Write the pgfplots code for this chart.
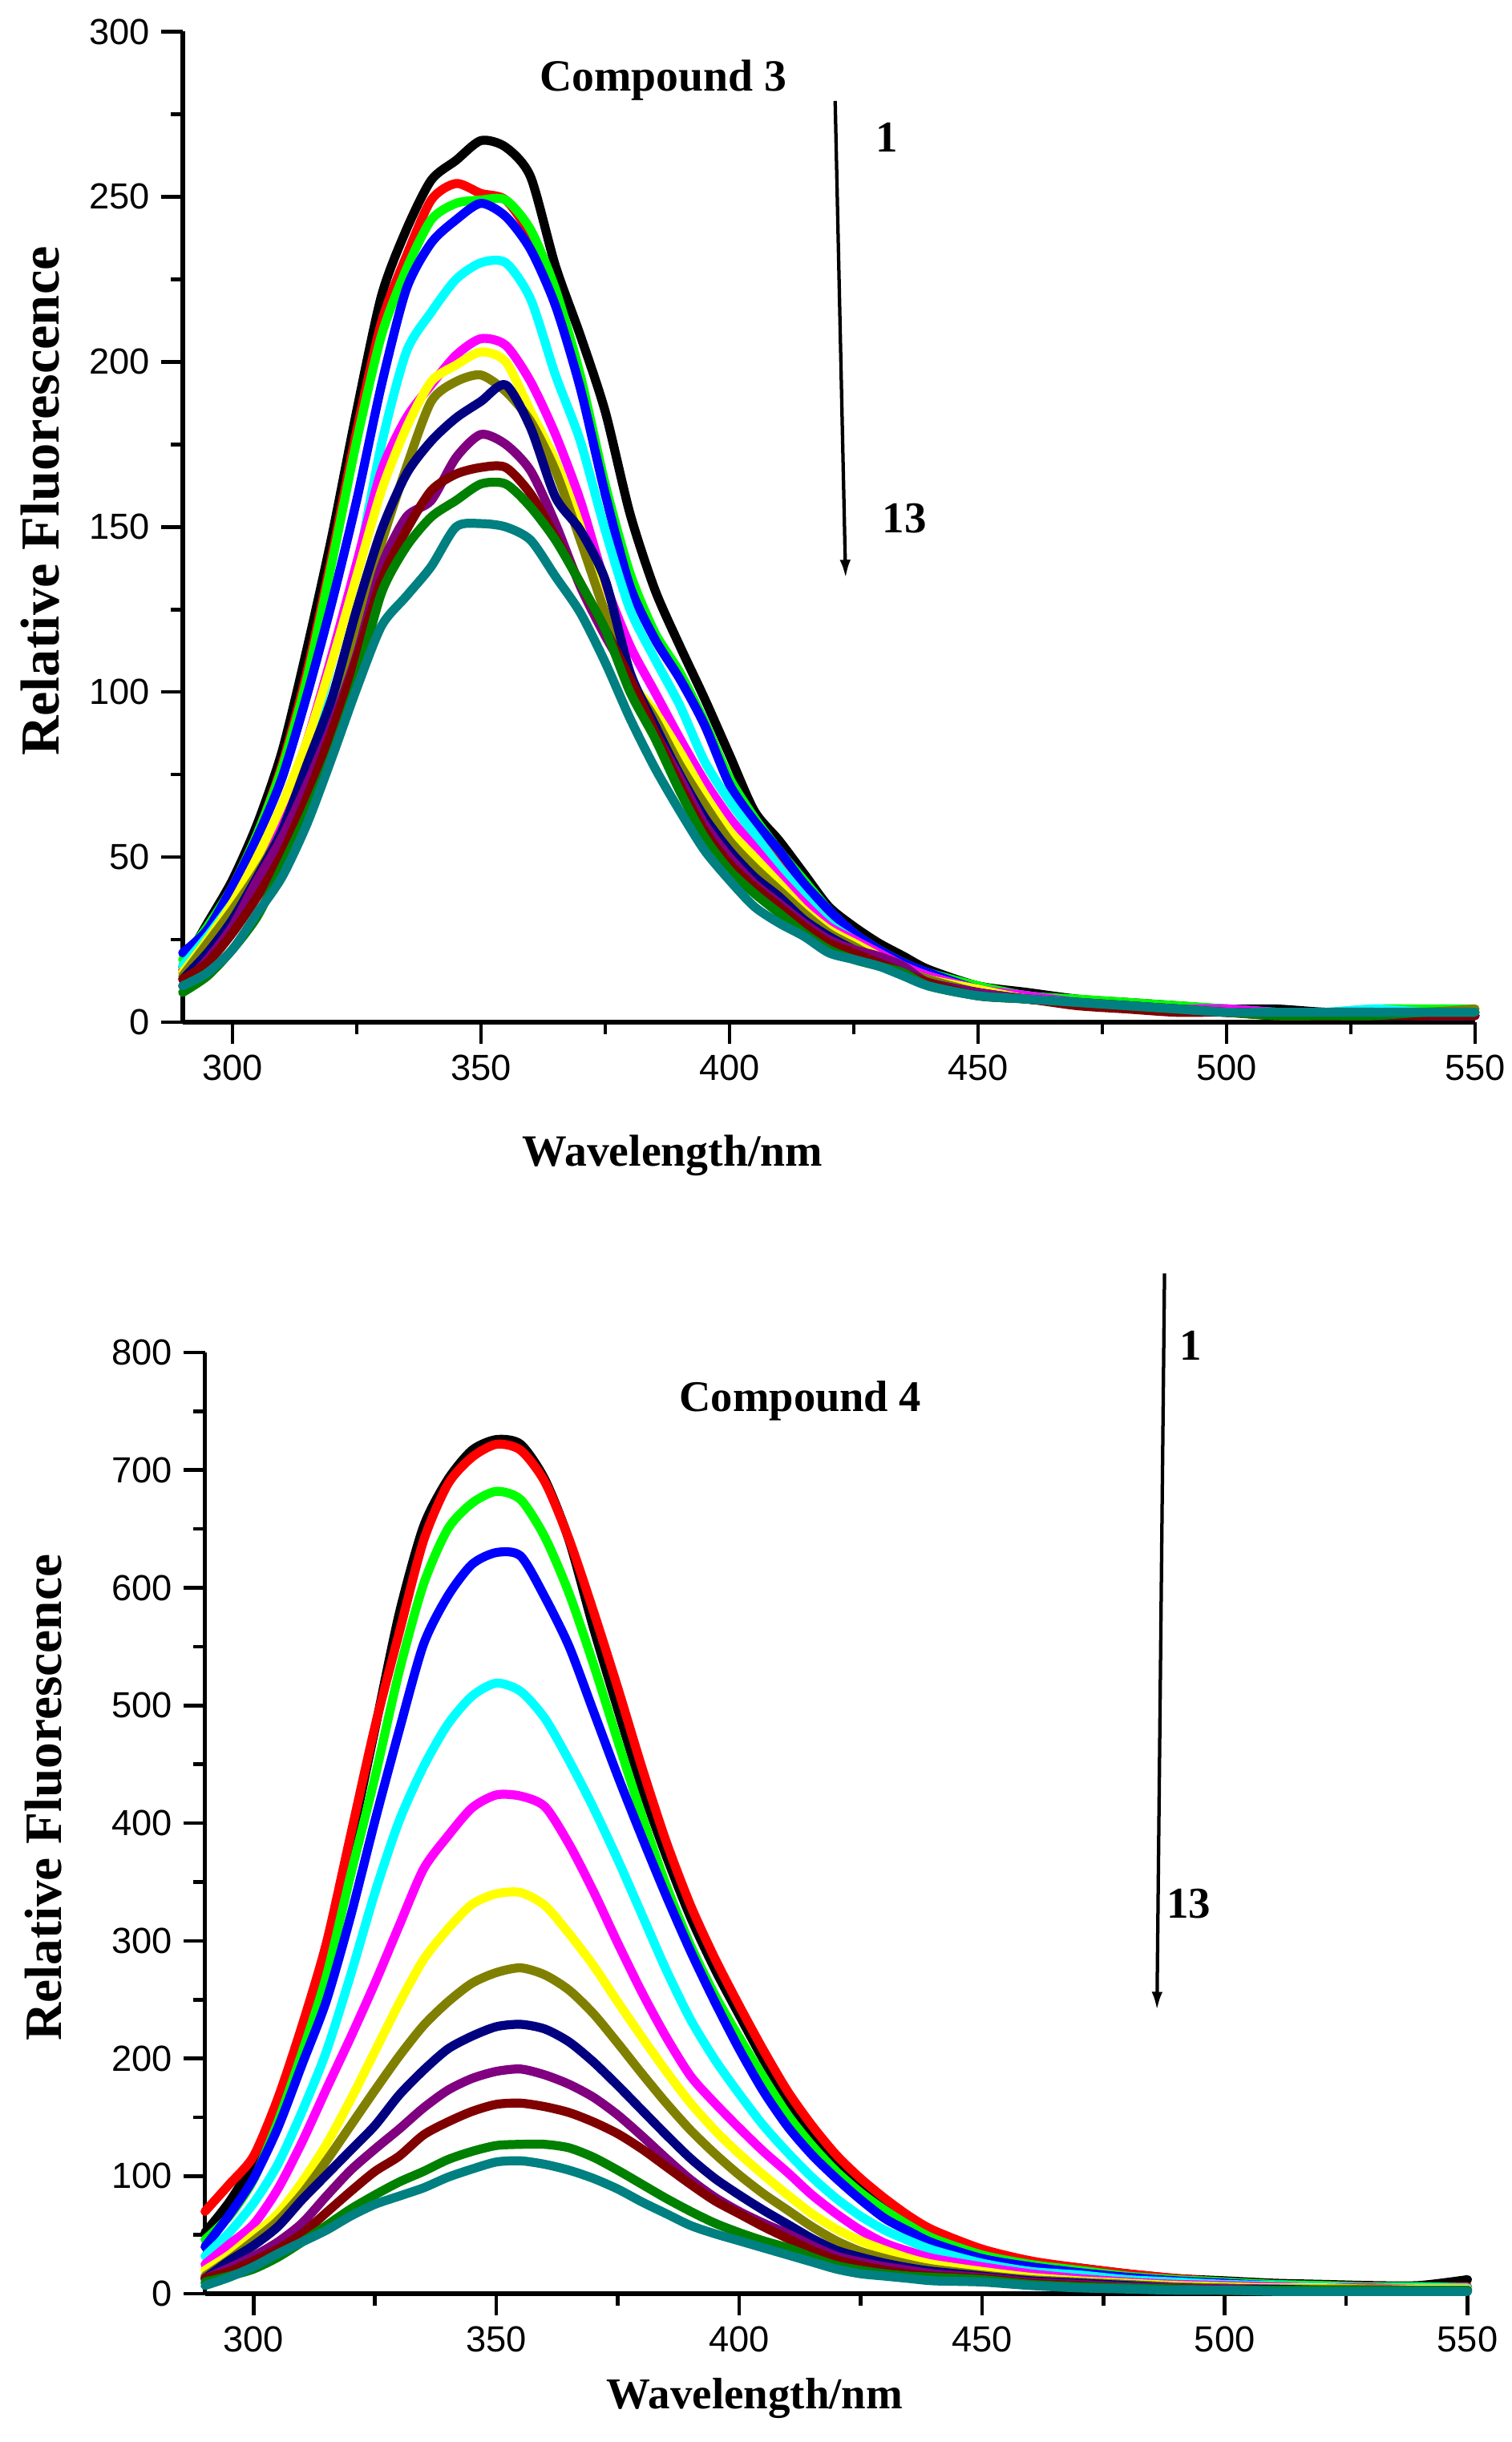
\documentclass[border=0pt]{standalone}
\usepackage{fontspec}
\setmainfont{Liberation Serif}
\newfontfamily\arialf{Liberation Sans}
\usepackage{pgfplots}
\usepackage{pgfplotstable}
\pgfplotsset{compat=1.18}
\usetikzlibrary{arrows.meta}

\definecolor{cRed}{RGB}{255,0,0}
\definecolor{cGreen}{RGB}{0,255,0}
\definecolor{cBlue}{RGB}{0,0,255}
\definecolor{cCyan}{RGB}{0,255,255}
\definecolor{cMag}{RGB}{255,0,255}
\definecolor{cYel}{RGB}{255,255,0}
\definecolor{cOlive}{RGB}{128,128,0}
\definecolor{cNavy}{RGB}{0,0,128}
\definecolor{cPurple}{RGB}{128,0,128}
\definecolor{cWine}{RGB}{128,0,0}
\definecolor{cDkGreen}{RGB}{0,128,0}
\definecolor{cTeal}{RGB}{0,128,128}

\pgfplotstableread{
x c1 c2 c3 c4 c5 c6 c7 c8 c9 c10 c11 c12 c13
290 17 16 19 21 17 15 15 14 13 11 13 9 11
295 30 28 29 28 26 23 25 24 21 19 18 14 15
300 43 41 41 41 36 33 36 34 31 29 27 22 22
305 60 57 57 56 46 46 50 45 44 43 38 32 33
310 82 78 77 74 62 63 66 58 58 56 51 47 44
315 113 106 104 99 82 85 85 76 78 72 68 63 60
320 147 141 139 127 109 111 109 93 98 90 88 81 80
325 185 179 176 158 137 139 135 117 125 111 110 103 101
330 220 212 208 193 175 167 161 145 149 138 134 130 120
335 240 232 228 222 203 183 180 168 166 153 149 144 129
340 255 249 243 236 215 193 194 188 176 158 161 153 138
345 261 254 248 243 225 202 199 194 183 171 166 158 150
350 267 251 249 248 230 207 203 196 188 178 168 163 151
355 265 249 249 244 230 205 200 191 193 175 168 163 150
360 256 238 240 234 219 194 185 182 180 167 160 156 146
365 229 218 222 217 196 178 170 167 159 151 147 146 135
370 208 194 196 192 176 158 150 146 149 132 133 133 124
375 185 161 163 160 149 133 124 124 134 117 119 119 109
380 154 134 136 132 125 114 104 104 106 104 104 100 92
385 131 117 118 116 110 100 94 92 90 88 88 86 77
390 114 105 106 104 96 86 82 78 75 74 72 70 64
395 98 90 91 90 79 73 69 66 62 60 58 56 52
400 81 73 74 72 67 62 58 55 52 50 48 46 43
405 64 61 62 61 57 53 50 47 44 42 41 39 35
410 55 51 52 52 47 44 42 40 38 36 35 33 30
415 45 41 43 42 38 36 34 33 31 30 29 27 26
420 35 32 34 34 30 29 28 27 26 25 24 22 21
425 29 25 27 27 25 25 24 23 22 22 21 19 19
430 24 21 22 22 21 21 20 19 19 20 18 17 17
435 20 17 18 18 17 17 16 16 16 17 15 15 14
440 16 13 15 15 14 14 13 13 12 12 12 11 11
450 11 9 11 10 10 10 10 9 9 9 8 8 8
460 9 7 8 8 8 8 7 7 7 7 7 7 7
470 7 6 7 6 6 6 6 6 6 6 5 6 6
480 6 5 6 5 5 5 5 5 5 5 4 5 5
490 5 4 5 4 4 4 4 4 4 4 3 4 4
500 4 3 4 4 4 4 3 3 3 3 3 3 3
510 4 2 3 3 3 3 3 3 3 3 2 2 3
520 3 2 3 3 3 3 3 3 3 3 2 2 3
530 3 2 4 3 4 3 3 3 2 3 2 2 3
540 3 2 4 3 3 3 3 3 2 2 2 3 3
550 3 2 4 3 3 2 3 4 2 2 2 3 3
}\topdata

\pgfplotstableread{
x d1 d2 d3 d4 d5 d6 d7 d8 d9 d10 d11 d12 d13
290 52 70 46 40 32 25 20 15 13 13 13 10 7
295 78 93 66 67 52 42 33 29 28 22 19 15 14
300 112 117 97 98 77 59 50 45 41 32 28 21 23
305 160 166 146 141 110 89 68 62 57 44 38 31 34
310 220 228 205 195 155 129 95 85 80 60 51 44 44
315 292 298 270 249 206 174 127 113 101 83 69 58 54
320 383 390 356 321 271 218 165 143 122 105 87 72 66
325 480 482 439 402 341 264 206 173 143 123 104 84 76
330 578 562 529 479 402 313 247 202 169 140 117 95 83
335 652 640 603 552 448 361 284 228 190 158 135 104 90
340 692 688 650 593 484 389 310 248 208 173 146 114 99
345 717 711 672 620 508 413 331 264 219 183 155 121 106
350 726 722 682 630 519 424 340 273 227 189 161 126 112
355 722 717 675 627 512 423 341 277 229 191 162 127 113
360 692 690 643 592 489 414 330 271 225 186 159 127 110
365 640 641 595 550 453 382 306 258 214 178 154 124 105
370 566 580 535 495 413 342 279 238 197 167 146 116 98
375 497 515 470 440 369 298 248 213 177 152 136 105 89
380 430 447 406 388 322 256 218 187 156 134 123 93 78
385 372 384 347 338 275 218 189 162 135 115 108 81 68
390 320 330 296 291 233 185 162 139 115 97 93 70 58
395 276 285 254 248 199 162 139 119 98 82 79 60 51
400 237 245 218 208 170 141 119 101 84 70 68 52 45
405 199 207 184 172 143 121 101 85 71 60 57 45 39
410 165 172 152 142 120 103 84 71 59 51 47 39 33
415 137 143 126 118 99 84 68 57 47 41 37 31 27
420 113 118 104 98 81 68 55 45 37 32 29 24 21
425 93 98 86 80 66 54 45 36 31 27 24 20 17
430 77 81 71 64 54 43 37 30 26 23 20 17 15
435 63 66 58 53 45 36 30 25 22 20 17 15 13
440 52 54 47 43 37 30 25 21 19 17 15 14 11
450 37 38 33 30 26 23 19 16 15 14 13 12 10
460 27 28 25 23 19 17 14 12 11 10 9 8 7
470 22 22 20 18 16 13 11 10 9 8 7 6 5
480 17 17 15 14 12 10 9 8 7 6 5 5 4
490 13 13 12 11 10 8 7 6 5 5 4 4 3
500 11 10 10 9 8 7 6 5 4 4 3 3 3
510 9 8 8 7 7 6 5 4 4 3 3 3 2
520 8 7 7 6 6 5 5 4 3 3 3 3 2
530 7 6 6 5 5 5 4 4 3 3 3 3 2
540 7 6 6 5 5 4 4 3 3 3 2 3 2
550 12 6 5 5 5 4 4 3 3 3 2 3 2
}\botdata

\pgfplotsset{spec/.style={
  scale only axis,
  axis lines=left,
  axis line style={-, line width=1.4pt},
  tick align=outside,
  major tick length=7pt,
  minor tick length=3.8pt,
  tick style={black, line width=1.2pt},
  xmin=290, xmax=550,
  xtick={300,350,...,550},
  minor xtick={325,375,...,525},
  ticklabel style={font=\arialf\fontsize{11.7}{12}\selectfont},
  /pgf/number format/assume math mode=true,
  clip=false,
  every axis plot/.append style={line width=2.9pt, line join=round, line cap=round, smooth, tension=0.45, no markers},
}}

\begin{document}
\begin{tikzpicture}
\path[use as bounding box] (0,0) rectangle (487.5pt,787.4pt);

% ---------- Compound 3 ----------
\begin{axis}[spec,
  at={(58.9pt,457.8pt)}, anchor=origin,
  width=416.7pt, height=319.4pt,
  ymin=0, ymax=300,
  ytick={0,50,...,300},
  minor ytick={25,75,...,275},
  xlabel={Wavelength/nm},
  ylabel={Relative Fluorescence},
  xlabel style={font=\bfseries\fontsize{14.4}{16}\selectfont, at={(axis description cs:0.379,-0.135)}, anchor=center},
  ylabel style={font=\bfseries\fontsize{17.7}{19}\selectfont, at={(axis description cs:-0.110,0.526)}, anchor=center},
]
\addplot[black] table[x=x,y=c1]{\topdata};
\addplot[cRed] table[x=x,y=c2]{\topdata};
\addplot[cGreen] table[x=x,y=c3]{\topdata};
\addplot[cBlue] table[x=x,y=c4]{\topdata};
\addplot[cCyan] table[x=x,y=c5]{\topdata};
\addplot[cMag] table[x=x,y=c6]{\topdata};
\addplot[cYel] table[x=x,y=c7]{\topdata};
\addplot[cOlive] table[x=x,y=c8]{\topdata};
\addplot[cNavy] table[x=x,y=c9]{\topdata};
\addplot[cPurple] table[x=x,y=c10]{\topdata};
\addplot[cWine] table[x=x,y=c11]{\topdata};
\addplot[cDkGreen] table[x=x,y=c12]{\topdata};
\addplot[cTeal] table[x=x,y=c13]{\topdata};
\node[font=\bfseries\fontsize{14.4}{16}\selectfont] at (axis description cs:0.372,0.951) {Compound 3};
\node[font=\bfseries\fontsize{14.2}{16}\selectfont] at (axis description cs:0.545,0.893) {1};
\node[font=\bfseries\fontsize{14.2}{16}\selectfont] at (axis description cs:0.5585,0.509) {13};
\draw[line width=1.1pt, -{Latex[length=6pt,width=3.5pt]}] (axis description cs:0.5049,0.930) -- (axis description cs:0.513,0.448);
\end{axis}

% ---------- Compound 4 ----------
\begin{axis}[spec,
  at={(66.1pt,47.8pt)}, anchor=origin,
  width=407.1pt, height=303.5pt,
  ymin=0, ymax=800,
  ytick={0,100,...,800},
  minor ytick={50,150,...,750},
  xlabel={Wavelength/nm},
  ylabel={Relative Fluorescence},
  xlabel style={font=\bfseries\fontsize{14.2}{16}\selectfont, at={(axis description cs:0.4355,-0.1115)}, anchor=center},
  ylabel style={font=\bfseries\fontsize{16.9}{18}\selectfont, at={(axis description cs:-0.128,0.527)}, anchor=center},
]
\addplot[black] table[x=x,y=d1]{\botdata};
\addplot[cRed] table[x=x,y=d2]{\botdata};
\addplot[cGreen] table[x=x,y=d3]{\botdata};
\addplot[cBlue] table[x=x,y=d4]{\botdata};
\addplot[cCyan] table[x=x,y=d5]{\botdata};
\addplot[cMag] table[x=x,y=d6]{\botdata};
\addplot[cYel] table[x=x,y=d7]{\botdata};
\addplot[cOlive] table[x=x,y=d8]{\botdata};
\addplot[cNavy] table[x=x,y=d9]{\botdata};
\addplot[cPurple] table[x=x,y=d10]{\botdata};
\addplot[cWine] table[x=x,y=d11]{\botdata};
\addplot[cDkGreen] table[x=x,y=d12]{\botdata};
\addplot[cTeal] table[x=x,y=d13]{\botdata};
\node[font=\bfseries\fontsize{14.1}{16}\selectfont] at (axis description cs:0.4716,0.949) {Compound 4};
\node[font=\bfseries\fontsize{14.2}{16}\selectfont] at (axis description cs:0.7806,1.007) {1};
\node[font=\bfseries\fontsize{14.2}{16}\selectfont] at (axis description cs:0.779,0.414) {13};
\draw[line width=1.1pt, -{Latex[length=6pt,width=3.5pt]}] (axis description cs:0.760,1.084) -- (axis description cs:0.754,0.301);
\end{axis}
\end{tikzpicture}
\end{document}
